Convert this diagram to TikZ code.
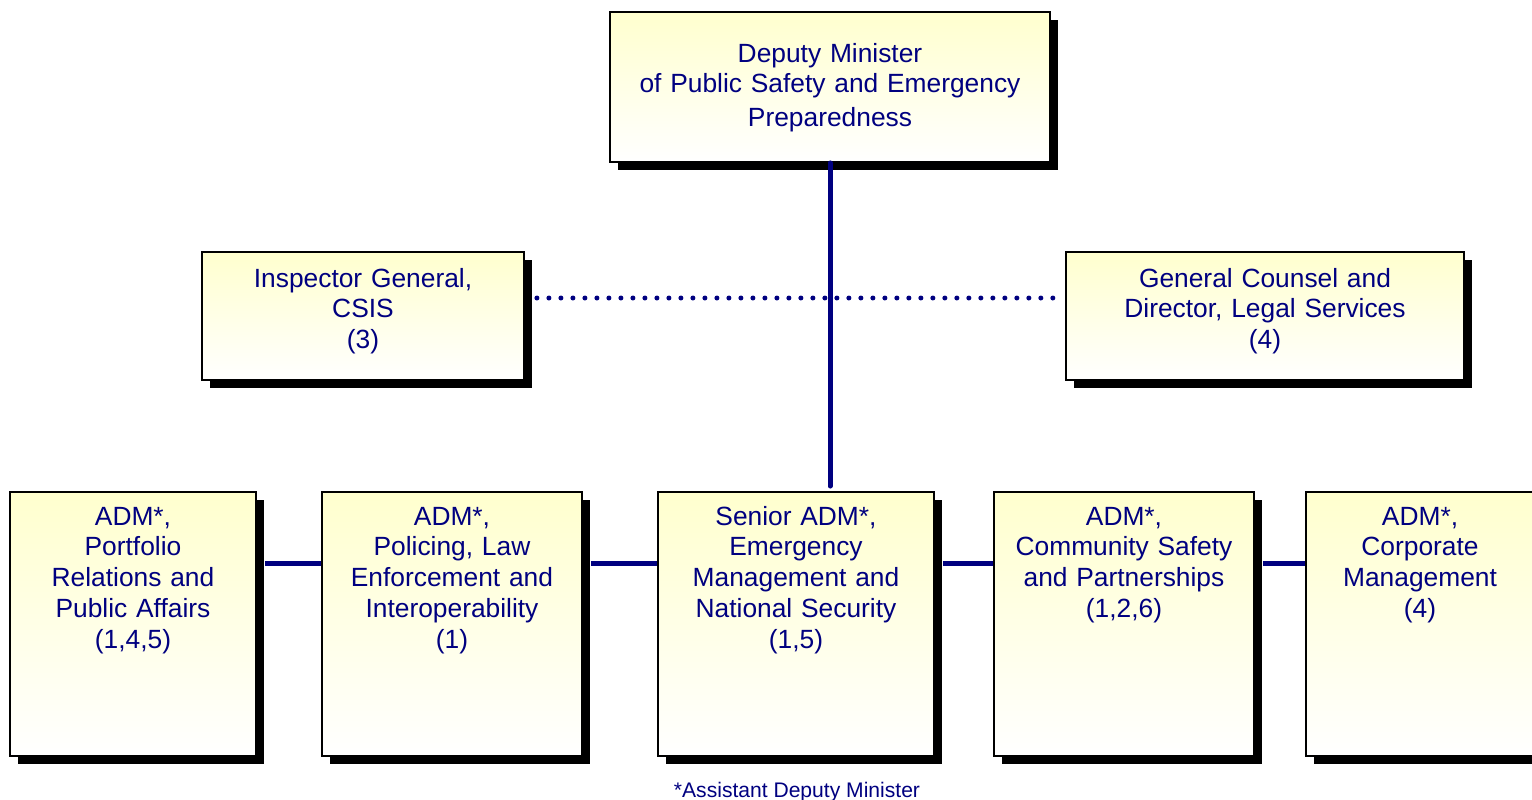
\documentclass[tikz,border=0pt]{standalone}
\usepackage{fontspec}
\setmainfont{Liberation Sans}
\usepackage{tikz}
\usetikzlibrary{shadows,positioning,calc}
\usepackage{xcolor}
\definecolor{navy}{RGB}{0,0,128}
\definecolor{paleyellow}{RGB}{255,255,206}

\begin{document}
\begin{tikzpicture}[
            x=0.02cm, y=-0.02cm,
            box/.style={draw=black, line width=1.1pt, top color=paleyellow, bottom color=white,
                drop shadow={shadow xshift=0.16cm, shadow yshift=-0.16cm, fill=black, opacity=1},
                inner sep=0pt, align=center, text=navy,
                font=\fontsize{15pt}{17.6pt}\selectfont},
            upper/.style={box, text width=#1, text height=0.7cm, text depth=1.86cm},
            unit/.style={box, text width=#1, text height=0.66cm, text depth=4.62cm},
            link/.style={draw=navy, line width=0.1cm},
            dotlink/.style={draw=navy, line width=0.1cm, line cap=round, dash pattern=on 0pt off 0.24cm}
        ]
            \useasboundingbox (0,0) rectangle (1532,800);

            % top
            \node[box, text width=8.8cm, text height=1.0cm, text depth=2.0cm] (dm) at (830,87)
                {Deputy Minister\\ of Public Safety and Emergency\\[0.06cm] Preparedness};

            % staff
            \node[upper=6.44cm] (ig) at (363,316) {Inspector General,\\ CSIS\\ (3)};
            \node[upper=7.96cm] (gc) at (1265,316) {General Counsel and\\ Director, Legal Services\\ (4)};

            % branches
            \node[unit=4.92cm] (prpa) at (133,624) {ADM*,\\ Portfolio\\ Relations and\\ Public Affairs\\ (1,4,5)};
            \node[unit=5.2cm] (plei) at (452,624) {ADM*,\\ Policing, Law\\ Enforcement and\\ Interoperability\\ (1)};
            \node[unit=5.52cm] (emns) at (796,624) {Senior ADM*,\\ Emergency\\ Management and\\ National Security\\ (1,5)};
            \node[unit=5.2cm] (csp) at (1124,624) {ADM*,\\ Community Safety\\ and Partnerships\\ (1,2,6)};
            \node[unit=4.56cm] (cm) at (1420,624) {ADM*,\\ Corporate\\ Management\\ (4)};

            \node[text=navy, font=\fontsize{12pt}{14pt}\selectfont, anchor=base] (note) at (797,797)
                {*Assistant Deputy Minister};

            % connectors
            \draw[link, line cap=round, shorten >=0.1cm] (dm.south) -- (dm.south |- emns.north);
            \draw[dotlink, shorten <=0.24cm, shorten >=0.1cm] ([yshift=0.36cm]ig.east) -- ([yshift=0.36cm]gc.west);
            \draw[link, shorten <=0.16cm] ([yshift=1.22cm]prpa.east) -- ([yshift=1.22cm]plei.west);
            \draw[link, shorten <=0.16cm] ([yshift=1.22cm]plei.east) -- ([yshift=1.22cm]emns.west);
            \draw[link, shorten <=0.16cm] ([yshift=1.22cm]emns.east) -- ([yshift=1.22cm]csp.west);
            \draw[link, shorten <=0.16cm] ([yshift=1.22cm]csp.east) -- ([yshift=1.22cm]cm.west);
        \end{tikzpicture}
\end{document}
